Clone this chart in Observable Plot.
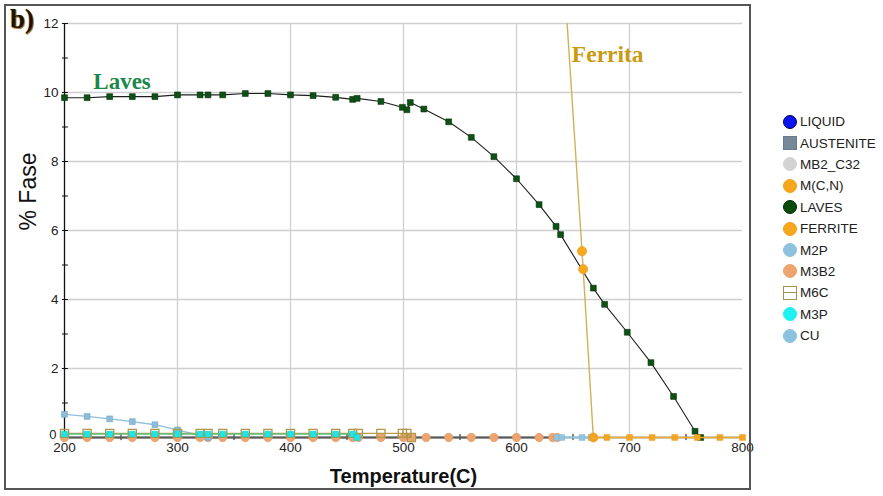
<!DOCTYPE html>
<html>
<head>
<meta charset="utf-8">
<script src="https://cdn.jsdelivr.net/npm/d3@7"></script>
<script src="https://cdn.jsdelivr.net/npm/@observablehq/plot@0.6"></script>
<style>
  html, body { margin: 0; padding: 0; background: #fff; }
  #wrap { position: relative; width: 883px; height: 496px; overflow: hidden; font-family: "Liberation Sans", Arial, sans-serif; }
  #wrap svg { position: absolute; left: 0; top: 0; }
  #frame { position: absolute; left: 4px; top: 4px; width: 747px; height: 486px; border: 2px solid #555; box-sizing: border-box; pointer-events: none; }
  #tag { position: absolute; left: 10px; top: 4px; font: bold 27px "Liberation Serif", "Times New Roman", serif; color: #1d1204; text-shadow: 0 0 1px #c98a2a, 1px 1px 0 #b07a2a; }
  #legend { position: absolute; left: 783px; top: 111px; font-size: 13.5px; color: #222; }
  .row { height: 21.4px; display: flex; align-items: center; }
  .sym { width: 14px; height: 14px; margin-right: 3px; box-sizing: border-box; flex: none; position: relative; }
</style>
</head>
<body>
<div id="wrap">
  <div id="frame"></div>
  <div id="tag">b)</div>
  <div id="legend"></div>
</div>
<script>
// Phase fractions (%) versus temperature (°C)
const phaseNames = ["LIQUID", "AUSTENITE", "MB2_C32", "M(C,N)", "LAVES", "FERRITE", "M2P", "M3B2", "M6C", "M3P", "CU"];

const lavesT   = [200, 220, 240, 260, 280, 300, 320, 327, 340, 360, 380, 400, 420, 440, 455, 459, 480, 499, 503, 506, 518, 540, 560, 580, 600, 620, 635, 639, 668, 678, 698, 719, 739, 758, 763];
const lavesPct = [9.85, 9.85, 9.88, 9.88, 9.88, 9.93, 9.93, 9.93, 9.93, 9.97, 9.97, 9.93, 9.91, 9.86, 9.80, 9.83, 9.74, 9.57, 9.50, 9.71, 9.52, 9.15, 8.70, 8.14, 7.50, 6.75, 6.12, 5.88, 4.33, 3.86, 3.05, 2.17, 1.19, 0.18, 0.0];

const ferriteT   = [640, 658, 659, 668];
const ferritePct = [14.4, 5.40, 4.88, 0.0];

const mcnT   = [668, 680, 700, 720, 740, 760, 780, 800];
const mcnPct = [0, 0, 0, 0, 0, 0, 0, 0];

const austeniteT   = [200, 636];
const austenitePct = [0, 0];

const m3b2T   = [200, 220, 240, 260, 280, 300, 320, 327, 340, 360, 380, 400, 420, 440, 455, 460, 480, 500, 507, 520, 540, 560, 580, 600, 620, 632, 636];
const m3b2Pct = m3b2T.map(() => 0);

const m2pT   = [200, 220, 240, 260, 280, 300, 327];
const m2pPct = [0.67, 0.61, 0.54, 0.46, 0.37, 0.22, 0.0];

const m6cT   = [200, 220, 240, 260, 280, 300, 320, 327, 340, 360, 380, 400, 420, 440, 455, 460, 480, 499, 503, 507];
const m6cPct = [0.12, 0.12, 0.12, 0.12, 0.12, 0.12, 0.12, 0.12, 0.12, 0.12, 0.12, 0.12, 0.12, 0.12, 0.12, 0.12, 0.12, 0.12, 0.12, 0.0];

const m3pT   = [200, 220, 240, 260, 280, 300, 320, 327, 340, 360, 380, 400, 420, 440, 455, 459];
const m3pPct = [0.10, 0.10, 0.10, 0.10, 0.10, 0.10, 0.10, 0.10, 0.10, 0.10, 0.10, 0.10, 0.10, 0.10, 0.10, 0.0];

const cuT   = [636, 640, 658, 666];
const cuPct = [0, 0, 0, 0];

const xTickLabels = [200, 300, 400, 500, 600, 700, 800];
const xMinorTicks = [250, 350, 450, 550, 650, 750];
const xGrid = [300, 400, 500, 600, 700];
const yTickLabels = [0, 2, 4, 6, 8, 10, 12];
const yAllTicks = [0, 1, 2, 3, 4, 5, 6, 7, 8, 9, 10, 11, 12];
const yGrid = [2, 4, 6, 8, 10, 12];

const rows = (T, P) => T.map((t, i) => ({t, p: P[i]}));

const laves = rows(lavesT, lavesPct);
const ferrite = rows(ferriteT, ferritePct);
const mcn = rows(mcnT, mcnPct);
const austenite = rows(austeniteT, austenitePct);
const m3b2 = rows(m3b2T, m3b2Pct);
const m2p = rows(m2pT, m2pPct);
const m6c = rows(m6cT, m6cPct);
const m3p = rows(m3pT, m3pPct);
const cu = rows(cuT, cuPct);

const xy = {x: "t", y: "p"};
const sq = (r, fill, stroke, extra = {}) => ({...xy, symbol: "square", r, fill, stroke, ...extra});

const chart = Plot.plot({
  width: 883,
  height: 496,
  marginLeft: 64,
  marginRight: 141,
  marginTop: 23,
  marginBottom: 59,
  style: {fontFamily: "'Liberation Sans', Arial, sans-serif", fontSize: "13px", color: "#222", background: "transparent", overflow: "visible"},
  x: {domain: [200, 800], label: null},
  y: {domain: [0, 12], label: null},
  marks: [
    Plot.gridX(xGrid, {stroke: "#cfcfcf", strokeOpacity: 1, strokeWidth: 1.3}),
    Plot.gridY(yGrid, {stroke: "#cfcfcf", strokeOpacity: 1, strokeWidth: 1.3}),
    Plot.axisX(xTickLabels, {tickSize: 0, tickPadding: 5, fontSize: 13.5, fill: "#222", label: null}),
    Plot.axisY(yTickLabels.filter(v => v > 0), {tickSize: 0, tickPadding: 6, fontSize: 13.5, fill: "#222", label: null}),
    // the zero label sits a little higher so it clears the first temperature label
    Plot.axisY([0], {tickSize: 0, tickPadding: 8, dy: -3, fontSize: 13, fill: "#222", label: null}),
    Plot.ruleX(xMinorTicks, {y1: -0.09, y2: 0.09, stroke: "#111"}),
    Plot.ruleY(yAllTicks, {x1: 198.2, x2: 203.5, stroke: "#111"}),
    Plot.ruleX([200], {stroke: "#111", strokeWidth: 1.3}),
    Plot.ruleY([0], {stroke: "#444", strokeWidth: 1.5}),

    // near-zero phases
    Plot.line(austenite, {...xy, stroke: "#5a5a5a", strokeWidth: 2.2}),
    Plot.dot(m3b2, {...xy, r: 4.2, fill: "#eda46f", stroke: "#dc9560", strokeWidth: 0.6}),
    Plot.line(m2p, {...xy, stroke: "#8cc0dc", strokeWidth: 1.3}),
    Plot.dot(m2p, sq(3.3, "#8cbcd8", "#78a8c8", {strokeWidth: 0.6})),
    Plot.line(m6c, {...xy, stroke: "#b49c4c", strokeWidth: 1.4}),
    Plot.dot(m6c, sq(4.6, "none", "#b0964a", {strokeWidth: 1.3})),
    Plot.line(m3p, {...xy, stroke: "#5fbf7c", strokeWidth: 1.6}),
    Plot.dot(m3p, sq(3.3, "#1fe6e6", "#1cc8c8", {strokeWidth: 0.5})),
    Plot.line(cu, {...xy, stroke: "#92c6de", strokeWidth: 2}),
    Plot.dot(cu, sq(3.3, "#92c6de", "#82b6ce", {strokeWidth: 0.5})),

    // Laves
    Plot.line(laves, {...xy, stroke: "#1e1e1e", strokeWidth: 1.1}),
    Plot.dot(laves, sq(3.3, "#0d5214", "#06300a", {strokeWidth: 0.6})),

    // ferrite and M(C,N)
    Plot.line(ferrite, {...xy, stroke: "#d0b256", strokeWidth: 1.4, clip: true}),
    Plot.dot(ferrite.filter(d => d.p <= 12), {...xy, r: 4.6, fill: "#f7a81d", stroke: "#e8981a", strokeWidth: 0.6}),
    Plot.line(mcn, {...xy, stroke: "#f0ac2e", strokeWidth: 1.6}),
    Plot.dot(mcn, sq(3.3, "#f5a623", "#e8981a", {strokeWidth: 0.5})),

    // annotations
    Plot.text(["Laves"], {x: 225.5, y: 10.09, text: d => d, textAnchor: "start", lineAnchor: "bottom", fill: "#1b8748", fontSize: 23, fontWeight: "bold", fontFamily: "'Liberation Serif', 'Times New Roman', serif"}),
    Plot.text(["Ferrita"], {x: 649, y: 10.87, text: d => d, textAnchor: "start", lineAnchor: "bottom", fill: "#c99a12", fontSize: 23.5, fontWeight: "bold", fontFamily: "'Liberation Serif', 'Times New Roman', serif"}),

    // axis titles
    Plot.text(["Temperature(C)"], {frameAnchor: "bottom", dy: 45, text: d => d, fontSize: 20, fill: "#111", fontWeight: "bold", lineAnchor: "bottom"}),
    Plot.text(["% Fase"], {frameAnchor: "left", dx: -36, rotate: -90, text: d => d, fontSize: 23, fill: "#111"})
  ]
});
document.getElementById("wrap").prepend(chart);

// Legend: one row per phase
const legendStyle = {
  "LIQUID":    {shape: "circle", fill: "#0a14f0", stroke: "#000050"},
  "AUSTENITE": {shape: "square", fill: "#778899", stroke: "#6a7a8a"},
  "MB2_C32":   {shape: "circle", fill: "#d3d3d3", stroke: "#d3d3d3"},
  "M(C,N)":    {shape: "circle", fill: "#f7a71c", stroke: "#f0a018"},
  "LAVES":     {shape: "circle", fill: "#0a4c0a", stroke: "#032803"},
  "FERRITE":   {shape: "circle", fill: "#f7a71c", stroke: "#f0a018"},
  "M2P":       {shape: "circle", fill: "#8cc2de", stroke: "#8cc2de"},
  "M3B2":      {shape: "circle", fill: "#eda46f", stroke: "#eda46f"},
  "M6C":       {shape: "hollow", fill: "#fff", stroke: "#a8914a"},
  "M3P":       {shape: "circle", fill: "#1ff0f0", stroke: "#1ff0f0"},
  "CU":        {shape: "circle", fill: "#8cc2de", stroke: "#8cc2de"}
};
const legend = d3.select("#legend");
for (const name of phaseNames) {
  const s = legendStyle[name];
  const row = legend.append("div").attr("class", "row");
  const sym = row.append("div").attr("class", "sym")
    .style("background", s.fill)
    .style("border", `1px solid ${s.stroke}`)
    .style("border-radius", s.shape === "circle" ? "50%" : "0");
  if (s.shape === "hollow") {
    sym.style("border-width", "1.5px");
    sym.append("div").style("position", "absolute").style("left", "0").style("right", "0")
      .style("top", "5px").style("height", "1.5px").style("background", s.stroke);
  }
  row.append("span").text(name);
}
</script>
</body>
</html>
